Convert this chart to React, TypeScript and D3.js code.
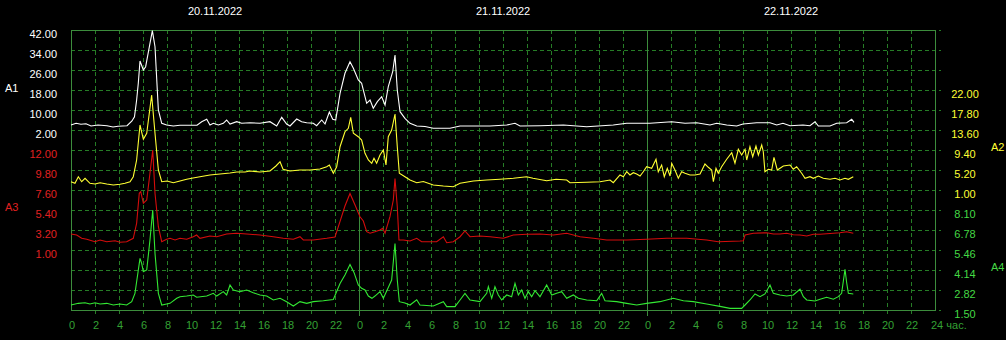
import React from "react";
import * as d3 from "d3";

// ---- data (hours since 20.11.2022 00:00, value) ----
const dayLabels = ["20.11.2022", "21.11.2022", "22.11.2022"];
const hourTicks = [0, 2, 4, 6, 8, 10, 12, 14, 16, 18, 20, 22];

const a1Ticks = [42, 34, 26, 18, 10, 2];
const a3Ticks = [12, 9.8, 7.6, 5.4, 3.2, 1];
const a2Ticks = [22, 17.8, 13.6, 9.4, 5.2, 1];
const a4Ticks = [8.1, 6.78, 5.46, 4.14, 2.82, 1.5];

const a1Data: [number, number][] = [
  [0, 4.0], [0.42, 4.68], [0.83, 4.28], [1.25, 4.52], [1.67, 3.6], [2.25, 4.0], [3.0, 3.72], [3.5, 3.2], [3.92, 3.48], [4.67, 3.72],
  [5.08, 5.6], [5.29, 7.32], [5.47, 14], [5.61, 20.8], [5.75, 29.6], [6.03, 26], [6.22, 27.32], [6.78, 41.72], [7.0, 35.32], [7.28, 10],
  [7.56, 4.68], [7.97, 4.0], [8.53, 3.6], [9.08, 3.88], [9.67, 3.88], [10.5, 3.88], [10.89, 5.32], [11.31, 6.28], [11.58, 4.0], [11.86, 4.68],
  [12.28, 4.0], [12.69, 4.68], [12.97, 6.0], [13.25, 4.4], [13.81, 5.32], [14.22, 4.68], [14.92, 4.92], [15.75, 4.68], [16.58, 5.32], [17.14, 3.6],
  [17.56, 7.08], [17.97, 4.4], [18.25, 3.6], [18.81, 6.4], [19.22, 5.32], [19.64, 4.92], [20.19, 4.68], [20.47, 3.72], [20.89, 6.0], [21.17, 4.4],
  [21.53, 9.2], [21.81, 6.28], [22.06, 6.0], [22.42, 16.68], [22.83, 24.68], [23.25, 29.32], [23.53, 26.68], [23.94, 22], [24.22, 20.68], [24.64, 12.68],
  [24.92, 14], [25.19, 10.68], [25.53, 13.32], [25.89, 15.32], [26.17, 12], [26.44, 19.32], [26.81, 25.32], [27.0, 32], [27.19, 18], [27.42, 9.32],
  [27.83, 6.68], [28.25, 4.68], [28.81, 3.6], [29.5, 3.4], [30.19, 2.68], [31.58, 2.68], [32.42, 3.6], [33.67, 3.6], [34.92, 3.6], [36.31, 4.0],
  [37.0, 4.68], [37.42, 3.6], [39.08, 3.72], [41.03, 4.0], [42.97, 3.32], [45.19, 4.0], [46.31, 4.68], [48.25, 4.68], [50.06, 5.32], [51.17, 4.68],
  [52.14, 4.92], [53.25, 4.0], [53.81, 4.68], [54.64, 4.0], [55.47, 3.6], [56.0, 4.4], [57.14, 4.92], [58.25, 4.92], [58.81, 4.0], [59.33, 4.68],
  [59.92, 3.72], [61.0, 4.0], [61.58, 3.72], [62.0, 5.32], [62.28, 3.6], [63.25, 3.6], [63.81, 4.68], [64.64, 4.92], [65.06, 6.28], [65.25, 5.08],
];

const a2Data: [number, number][] = [
  [0, 2.74], [0.33, 2.41], [0.61, 3.79], [0.89, 2.74], [1.17, 3.46], [1.58, 2.41], [2.0, 2.26], [2.42, 2.53], [2.98, 2.26], [3.53, 2.05],
  [4.08, 2.2], [4.5, 2.41], [4.92, 2.74], [5.19, 3.79], [5.47, 7.3], [5.75, 14.65], [6.03, 11.65], [6.31, 12.91], [6.72, 20.95], [7.0, 12.91],
  [7.28, 5.2], [7.56, 2.74], [8.0, 2.89], [8.53, 2.53], [9.08, 2.89], [9.64, 3.25], [10.17, 3.52], [10.75, 3.79], [11.58, 4.15], [12.42, 4.36],
  [13.25, 4.57], [13.81, 4.78], [14.5, 4.78], [14.92, 4.99], [15.75, 4.78], [16.58, 4.99], [17.08, 6.04], [17.42, 6.94], [17.67, 5.35], [18.25, 4.99],
  [19.08, 5.2], [19.92, 5.2], [20.75, 5.41], [21.31, 5.89], [21.53, 6.25], [21.86, 4.51], [22.14, 5.89], [22.42, 10.09], [22.83, 13.24], [23.11, 13.96],
  [23.31, 16.27], [23.53, 12.91], [23.94, 12.19], [24.22, 11.5], [24.5, 8.71], [24.78, 7.3], [25.06, 6.61], [25.25, 7.66], [25.47, 6.61], [25.75, 8.35],
  [26.03, 9.4], [26.25, 6.25], [26.44, 12.19], [26.72, 13.6], [27.0, 16.96], [27.19, 10.09], [27.36, 4.51], [27.83, 3.79], [28.25, 3.1], [28.81, 2.53],
  [29.36, 2.79], [30.19, 2.05], [31.03, 1.84], [31.86, 1.69], [32.42, 2.41], [33.53, 2.89], [34.64, 3.1], [35.75, 3.25], [36.86, 3.46], [37.97, 3.79],
  [38.5, 3.46], [39.64, 2.95], [40.42, 3.25], [41.31, 3.1], [41.58, 2.53], [42.97, 2.62], [44.08, 2.74], [44.92, 3.1], [45.19, 2.53], [45.75, 4.15],
  [46.03, 3.79], [46.31, 4.84], [46.58, 4.15], [46.86, 4.63], [47.14, 4.36], [47.42, 3.94], [47.69, 4.84], [47.97, 5.89], [48.39, 5.56], [48.75, 7.45],
  [48.94, 4.84], [49.22, 6.25], [49.44, 3.79], [49.69, 5.56], [49.92, 3.94], [50.06, 6.61], [50.33, 5.2], [50.61, 3.46], [50.89, 4.84], [51.17, 4.51],
  [51.58, 4.15], [52.0, 4.15], [52.42, 4.36], [52.83, 6.46], [53.11, 5.77], [53.39, 5.2], [53.53, 2.74], [53.75, 5.56], [53.94, 4.51], [54.22, 5.89],
  [54.64, 7.45], [55.06, 8.83], [55.33, 6.61], [55.61, 9.55], [55.89, 8.35], [56.17, 9.55], [56.31, 7.3], [56.58, 10.09], [56.81, 7.99], [57.08, 10.24],
  [57.28, 8.35], [57.56, 10.45], [57.69, 9.04], [57.83, 4.84], [58.11, 5.35], [58.39, 5.2], [58.58, 7.87], [58.86, 5.2], [59.36, 6.04], [59.92, 6.25],
  [60.19, 5.35], [60.47, 5.89], [60.89, 4.51], [61.17, 3.46], [61.58, 3.79], [61.86, 3.46], [62.28, 3.94], [62.69, 3.46], [63.25, 3.25], [63.67, 3.46],
  [64.08, 3.1], [64.5, 3.46], [64.78, 3.25], [65.19, 3.79],
];

const a3Data: [number, number][] = [
  [0, 2.76], [0.47, 2.65], [0.89, 2.29], [1.31, 2.18], [2.0, 1.91], [2.42, 2.1], [2.98, 1.91], [3.67, 2.02], [4.08, 1.85], [4.64, 1.91],
  [5.19, 2.29], [5.47, 3.94], [5.69, 7.24], [5.81, 7.41], [6.03, 6.14], [6.31, 6.5], [6.58, 9.44], [6.81, 12.0], [7.0, 7.24], [7.28, 3.56],
  [7.56, 1.91], [7.97, 2.18], [8.25, 2.29], [8.67, 2.1], [9.08, 2.29], [9.64, 2.18], [10.19, 2.46], [10.47, 2.65], [10.75, 2.29], [11.58, 2.54],
  [12.14, 2.46], [12.97, 2.76], [13.81, 2.84], [14.64, 2.76], [15.75, 2.65], [16.86, 2.46], [17.69, 2.29], [18.53, 2.18], [19.08, 2.46], [19.36, 2.1],
  [20.19, 2.1], [21.31, 2.29], [22.0, 2.43], [22.42, 4.14], [22.83, 5.84], [23.25, 7.22], [23.67, 5.95], [24.08, 4.66], [24.36, 4.19], [24.64, 3.01],
  [24.92, 2.84], [25.33, 3.01], [25.75, 3.2], [25.97, 3.39], [26.17, 2.84], [26.58, 4.66], [26.86, 6.5], [27.0, 8.87], [27.19, 5.76], [27.33, 2.1],
  [27.69, 2.1], [28.25, 1.99], [28.81, 2.29], [29.22, 1.91], [29.92, 1.91], [30.47, 1.91], [31.03, 2.46], [31.31, 1.8], [31.86, 1.91], [32.42, 2.46],
  [32.83, 3.09], [33.25, 2.46], [34.08, 2.54], [34.92, 2.46], [36.03, 2.29], [36.86, 2.65], [37.97, 2.73], [39.08, 2.76], [40.19, 2.65], [41.31, 2.84],
  [42.42, 2.46], [43.53, 2.29], [44.64, 2.1], [46.31, 2.1], [47.97, 2.18], [49.64, 2.29], [51.31, 2.29], [52.97, 2.1], [53.94, 1.91], [55.75, 1.99],
  [56.03, 2.02], [56.17, 2.65], [56.86, 2.84], [57.97, 2.9], [58.53, 2.76], [59.08, 2.76], [59.64, 2.84], [60.19, 2.68], [60.75, 2.65], [61.31, 2.54],
  [61.86, 2.73], [62.42, 2.73], [62.97, 2.79], [63.53, 2.84], [64.08, 2.9], [64.64, 3.01], [65.19, 2.84],
];

const a4Data: [number, number][] = [
  [0, 1.83], [0.61, 1.94], [1.17, 1.98], [1.58, 1.9], [2.0, 1.98], [2.42, 1.9], [2.98, 1.94], [3.53, 1.83], [4.08, 1.9], [4.64, 1.83],
  [5.06, 2.05], [5.33, 2.6], [5.61, 4.14], [5.75, 4.91], [5.89, 4.58], [6.03, 4.03], [6.31, 4.14], [6.58, 6.12], [6.81, 8.1], [7.0, 5.24],
  [7.28, 2.6], [7.56, 1.83], [7.97, 1.9], [8.25, 1.94], [8.81, 2.27], [9.08, 2.38], [9.64, 2.42], [10.19, 2.49], [10.47, 2.34], [11.31, 2.42],
  [11.86, 2.6], [12.14, 2.42], [12.69, 2.71], [12.97, 2.49], [13.25, 3.15], [13.53, 2.82], [14.08, 2.71], [14.64, 2.82], [15.19, 2.64], [15.75, 2.49],
  [16.31, 2.42], [16.86, 2.16], [17.42, 2.27], [17.97, 2.05], [18.53, 1.76], [19.08, 2.05], [19.64, 1.94], [20.19, 2.05], [21.03, 2.11], [21.86, 2.19],
  [22.42, 3.25], [22.83, 3.81], [23.25, 4.5], [23.58, 3.98], [23.94, 3.15], [24.22, 2.93], [24.5, 2.82], [24.78, 2.42], [25.08, 2.27], [25.33, 2.42],
  [25.75, 2.71], [26.03, 2.27], [26.44, 2.99], [26.72, 3.48], [27.0, 5.89], [27.19, 3.48], [27.36, 2.05], [27.83, 1.96], [28.25, 1.83], [28.81, 2.18],
  [29.08, 1.83], [30.19, 1.76], [31.03, 2.05], [31.31, 1.72], [32.0, 1.72], [32.42, 2.16], [32.83, 2.6], [33.25, 2.16], [34.08, 2.05], [34.64, 2.6],
  [34.78, 3.04], [35.06, 2.27], [35.33, 3.04], [35.61, 2.49], [35.89, 2.16], [36.31, 2.49], [36.72, 2.38], [37.0, 3.26], [37.28, 2.49], [37.56, 2.82],
  [37.83, 2.27], [38.11, 2.71], [38.39, 2.38], [38.67, 2.77], [39.08, 2.38], [39.64, 3.15], [40.06, 2.49], [40.47, 2.6], [40.89, 2.71], [41.31, 2.27],
  [41.86, 2.49], [42.28, 2.27], [42.97, 2.16], [43.81, 2.11], [44.22, 2.6], [44.5, 2.11], [45.47, 2.05], [46.31, 1.94], [47.14, 1.83], [47.97, 1.94],
  [49.08, 2.05], [50.19, 2.27], [51.03, 2.11], [51.86, 2.05], [52.97, 1.9], [54.08, 1.74], [54.92, 1.61], [55.89, 1.61], [56.17, 1.83], [56.58, 2.16],
  [57.0, 2.56], [57.42, 2.38], [57.83, 2.56], [58.25, 3.15], [58.53, 2.6], [59.08, 2.49], [59.64, 2.42], [60.19, 2.49], [60.75, 2.87], [61.03, 2.38],
  [61.31, 2.16], [62.0, 2.09], [62.42, 2.21], [62.97, 2.34], [63.53, 2.21], [63.94, 2.38], [64.22, 2.6], [64.5, 4.19], [64.64, 3.3], [64.78, 2.6],
  [65.19, 2.56],
];

// ---- layout ----
const W = 1006;
const H = 340;
const L = 71;
const R = 935;
const T = 30;
const B = 310;

const FONT = "'Liberation Sans', Arial, sans-serif";
const GRID = "#267d26";
const SOLID = "#3c8c3c";
const AXIS_TXT = "#34a034";

export default function App() {
  const x = d3.scaleLinear().domain([0, 72]).range([L, R]);
  const yA1 = d3.scaleLinear().domain([2, 42]).range([130, T]);
  const yA2 = d3.scaleLinear().domain([1, 22]).range([190, 90]);
  const yA3 = d3.scaleLinear().domain([1, 12]).range([250, 150]);
  const yA4 = d3.scaleLinear().domain([1.5, 8.1]).range([B, 210]);

  const gridYs = Array.from(
    new Set([
      ...a1Ticks.map((t) => Math.round(yA1(t))),
      ...a3Ticks.map((t) => Math.round(yA3(t))),
      ...a4Ticks.map((t) => Math.round(yA4(t))),
    ])
  ).sort((a, b) => a - b);

  const allHours: { h: number; label: string }[] = [];
  for (let d = 0; d < 3; d++) {
    hourTicks.forEach((t) => allHours.push({ h: d * 24 + t, label: String(t) }));
  }

  const mk = (ys: d3.ScaleLinear<number, number>) =>
    d3
      .line<[number, number]>()
      .x((d) => x(d[0]))
      .y((d) => ys(d[1]));

  const series = [
    { data: a4Data, y: yA4, color: "#33e833" },
    { data: a3Data, y: yA3, color: "#d40c0c" },
    { data: a2Data, y: yA2, color: "#ffff33" },
    { data: a1Data, y: yA1, color: "#ffffff" },
  ];

  return (
    <svg
      width={W}
      height={H}
      style={{ position: "fixed", left: 0, top: 0, background: "#000", display: "block" }}
      fontFamily={FONT}
      fontSize={11}
    >
      <rect x={0} y={0} width={W} height={H} fill="#000" />

      {/* horizontal dashed grid */}
      {gridYs.map((gy) => (
        <line
          key={"h" + gy}
          x1={L}
          x2={R + 6}
          y1={gy + 0.5}
          y2={gy + 0.5}
          stroke={GRID}
          strokeDasharray="4,3"
          shapeRendering="crispEdges"
        />
      ))}

      {/* vertical dashed grid */}
      {allHours.map((t) =>
        t.h % 24 === 0 ? null : (
          <line
            key={"v" + t.h}
            x1={Math.round(x(t.h)) + 0.5}
            x2={Math.round(x(t.h)) + 0.5}
            y1={T}
            y2={B + 6}
            stroke={GRID}
            strokeDasharray="4,3"
            shapeRendering="crispEdges"
          />
        )
      )}

      {/* solid frame + day separators */}
      <line x1={L} x2={R} y1={T + 0.5} y2={T + 0.5} stroke={SOLID} shapeRendering="crispEdges" />
      <line x1={L} x2={R} y1={B + 0.5} y2={B + 0.5} stroke={SOLID} shapeRendering="crispEdges" />
      <line x1={L + 0.5} x2={L + 0.5} y1={T} y2={B + 1} stroke={SOLID} shapeRendering="crispEdges" />
      <line x1={R + 0.5} x2={R + 0.5} y1={T} y2={B + 1} stroke={SOLID} shapeRendering="crispEdges" />
      {[24, 48].map((h) => (
        <line
          key={"d" + h}
          x1={Math.round(x(h)) + 0.5}
          x2={Math.round(x(h)) + 0.5}
          y1={T}
          y2={B + 6}
          stroke={SOLID}
          shapeRendering="crispEdges"
        />
      ))}

      {/* data lines */}
      {series.map((s, i) => (
        <path key={"s" + i} d={mk(s.y)(s.data) || ""} fill="none" stroke={s.color} strokeWidth={1.1} />
      ))}

      {/* day labels */}
      {dayLabels.map((d, i) => (
        <text key={d} x={x(i * 24 + 12)} y={15} fill="#ffffff" textAnchor="middle">
          {d}
        </text>
      ))}

      {/* left axis labels */}
      {a1Ticks.map((t) => (
        <text key={"a1" + t} x={57} y={yA1(t) + 7.5} fill="#ffffff" textAnchor="end">
          {t.toFixed(2)}
        </text>
      ))}
      {a3Ticks.map((t) => (
        <text key={"a3" + t} x={57} y={yA3(t) + 7.5} fill="#e02020" textAnchor="end">
          {t.toFixed(2)}
        </text>
      ))}
      <text x={5} y={91.5} fill="#ffffff">A1</text>
      <text x={5} y={210.5} fill="#e02020">A3</text>

      {/* right axis labels */}
      {a2Ticks.map((t) => (
        <text key={"a2" + t} x={965} y={yA2(t) + 7.5} fill="#ffff33" textAnchor="middle">
          {t.toFixed(2)}
        </text>
      ))}
      {a4Ticks.map((t) => (
        <text key={"a4" + t} x={965} y={yA4(t) + 7.5} fill="#44d844" textAnchor="middle">
          {t.toFixed(2)}
        </text>
      ))}
      <text x={991} y={150.5} fill="#ffff33">A2</text>
      <text x={991} y={271} fill="#44d844">A4</text>

      {/* bottom hour labels */}
      {allHours.map((t) => (
        <text key={"x" + t.h} x={x(t.h) + 1} y={328.5} fill={AXIS_TXT} textAnchor="middle">
          {t.label}
        </text>
      ))}
      <text x={x(72) - 4} y={328.5} fill={AXIS_TXT}>
        24 час.
      </text>
    </svg>
  );
}
